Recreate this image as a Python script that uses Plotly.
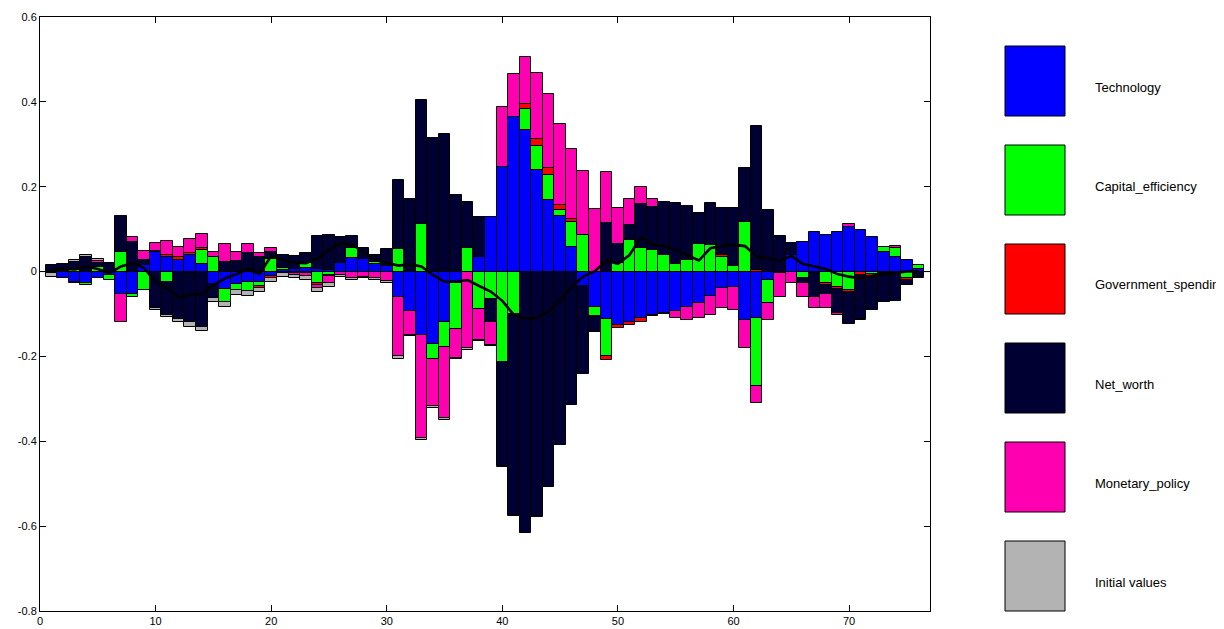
import plotly.graph_objects as go

periods = list(range(1, 77))

technology = [-0.004, -0.016, -0.024, -0.028, -0.016, -0.008, -0.054, -0.053, 0.016, 0.045,
              0.035, 0.027, 0.039, 0.019, -0.029, -0.042, -0.029, -0.025, -0.025, -0.010,
              0.004, 0.006, 0.008, 0.006, 0.004, 0.020, 0.031, 0.030, 0.018, 0.012,
              -0.059, -0.094, -0.149, -0.171, -0.120, -0.028, 0.000, 0.035, 0.129, 0.246,
              0.364, 0.334, 0.239, 0.169, 0.131, 0.057, -0.034, -0.083, -0.112, -0.126,
              -0.120, -0.110, -0.102, -0.097, -0.092, -0.084, -0.075, -0.057, -0.039, -0.036,
              -0.114, -0.110, -0.020, 0.000, 0.039, 0.070, 0.094, 0.086, 0.093, 0.104,
              0.098, 0.082, 0.045, 0.034, 0.027, 0.006]

capital_efficiency = [0.002, 0.000, 0.003, -0.004, 0.010, -0.012, 0.045, -0.008, -0.043, 0.000,
                      -0.024, 0.000, -0.004, 0.033, 0.034, -0.030, -0.014, -0.021, -0.009, 0.029,
                      0.004, 0.000, 0.012, -0.028, -0.008, 0.000, 0.024, 0.000, 0.004, 0.000,
                      0.053, 0.000, 0.111, -0.036, -0.057, -0.108, 0.055, -0.089, -0.065, -0.214,
                      -0.100, 0.048, 0.058, 0.059, 0.014, 0.059, 0.086, -0.022, -0.088, 0.020,
                      0.074, 0.055, 0.051, 0.039, 0.018, 0.027, 0.065, 0.063, 0.035, 0.012,
                      0.118, -0.159, -0.055, -0.004, 0.000, -0.016, 0.000, -0.028, -0.037, -0.043,
                      0.000, -0.006, 0.014, 0.021, -0.016, 0.010]

government_spending = [0.000, 0.000, -0.003, 0.000, 0.000, 0.000, 0.000, 0.000, 0.000, 0.004,
                       0.005, 0.008, 0.004, 0.004, 0.000, 0.000, 0.000, 0.000, -0.004, -0.004,
                       -0.004, -0.004, -0.004, -0.004, -0.002, 0.000, 0.000, 0.000, 0.000, 0.000,
                       0.000, 0.000, 0.000, 0.000, 0.000, 0.000, 0.000, 0.000, 0.000, 0.000,
                       0.000, 0.012, 0.015, 0.015, 0.012, 0.008, 0.000, -0.003, -0.008, -0.008,
                       -0.007, -0.008, -0.003, -0.003, 0.000, 0.000, 0.000, 0.000, 0.004, 0.000,
                       0.000, 0.004, 0.000, 0.000, 0.000, 0.000, -0.004, -0.004, -0.004, -0.004,
                       -0.008, -0.005, -0.004, -0.004, -0.004, -0.004]

net_worth = [0.014, 0.018, 0.020, 0.034, 0.011, 0.020, 0.087, 0.069, 0.011, -0.087,
             -0.078, -0.112, -0.116, -0.131, -0.034, 0.022, 0.026, 0.043, 0.035, 0.018,
             0.031, 0.031, 0.023, 0.078, 0.082, 0.061, 0.030, 0.025, 0.017, 0.041,
             0.163, 0.171, 0.293, 0.314, 0.324, 0.180, 0.110, 0.094, -0.055, -0.244,
             -0.474, -0.617, -0.576, -0.507, -0.409, -0.314, -0.208, -0.034, 0.114, 0.045,
             0.036, 0.104, 0.102, 0.124, 0.143, 0.128, 0.072, 0.098, 0.110, 0.139,
             0.125, 0.339, 0.145, 0.084, 0.028, -0.012, -0.057, -0.021, -0.057, -0.076,
             -0.104, -0.079, -0.067, -0.065, -0.012, -0.008]

monetary_policy = [0.000, 0.000, 0.000, 0.000, 0.004, 0.000, -0.066, 0.012, 0.022, 0.018,
                   0.031, 0.024, 0.034, 0.032, 0.011, 0.043, 0.019, 0.021, 0.008, 0.009,
                   0.000, -0.003, -0.006, -0.006, -0.018, -0.007, -0.016, -0.012, -0.016, -0.022,
                   -0.141, -0.055, -0.244, -0.111, -0.169, -0.068, -0.181, -0.072, -0.053, 0.141,
                   0.102, 0.111, 0.155, 0.175, 0.190, 0.164, 0.152, 0.147, 0.121, 0.086,
                   0.061, 0.040, 0.017, 0.000, -0.018, -0.030, -0.035, -0.046, -0.047, -0.054,
                   -0.067, -0.041, -0.039, -0.055, -0.028, -0.031, -0.026, -0.032, -0.004, 0.007,
                   -0.003, 0.000, 0.000, 0.006, 0.000, -0.004]

initial_values = [-0.008, 0.000, 0.004, 0.005, 0.004, 0.000, 0.000, 0.000, 0.000, -0.004,
                  -0.006, -0.008, -0.010, -0.009, -0.009, -0.011, -0.012, -0.011, -0.009, -0.011,
                  -0.009, -0.009, -0.009, -0.009, -0.008, -0.006, -0.005, -0.004, -0.004, -0.006,
                  -0.005, -0.004, -0.004, -0.004, -0.004, -0.003, -0.004, -0.003, -0.002, -0.002,
                  -0.002, 0.000, -0.002, 0.000, 0.000, 0.000, 0.000, 0.000, 0.000, 0.000,
                  0.000, 0.000, 0.000, 0.000, 0.000, 0.000, 0.000, 0.000, 0.000, 0.000,
                  0.000, 0.000, 0.000, 0.000, 0.000, 0.000, 0.000, 0.000, 0.000, 0.000,
                  0.000, 0.000, 0.000, 0.000, 0.000, 0.000]

total = [0.005, 0.007, 0.005, 0.012, 0.006, -0.004, 0.012, 0.020, 0.008, -0.024,
         -0.038, -0.061, -0.055, -0.053, -0.032, -0.016, -0.006, 0.006, -0.006, 0.037,
         0.027, 0.021, 0.020, 0.031, 0.051, 0.067, 0.064, 0.045, 0.027, 0.021,
         0.014, 0.017, 0.012, -0.008, -0.024, -0.024, -0.020, -0.034, -0.047, -0.069,
         -0.102, -0.111, -0.109, -0.094, -0.067, -0.036, -0.012, 0.001, 0.026, 0.018,
         0.039, 0.081, 0.064, 0.060, 0.051, 0.039, 0.026, 0.055, 0.061, 0.063,
         0.060, 0.035, 0.031, 0.025, 0.037, 0.018, 0.012, 0.006, -0.006, -0.012,
         -0.016, -0.010, -0.006, -0.003, 0.000, 0.001]

series_names = ["Technology", "Capital_efficiency", "Government_spending",
                "Net_worth", "Monetary_policy", "Initial values"]
series_values = [technology, capital_efficiency, government_spending,
                 net_worth, monetary_policy, initial_values]
series_colors = ["#0000FF", "#00FF00", "#FF0000", "#000033", "#FF00B0", "#B3B3B3"]

x_ticks = [0, 10, 20, 30, 40, 50, 60, 70]
y_ticks = [-0.8, -0.6, -0.4, -0.2, 0, 0.2, 0.4, 0.6]
y_tick_labels = ["-0.8", "-0.6", "-0.4", "-0.2", "0", "0.2", "0.4", "0.6"]

fig = go.Figure()
for name, vals, col in zip(series_names, series_values, series_colors):
    fig.add_trace(go.Bar(
        x=periods, y=[v if v != 0 else None for v in vals], name=name, width=1.0,
        marker=dict(color=col, line=dict(color="black", width=1)),
        showlegend=False, hoverinfo="skip"))

fig.add_trace(go.Scatter(x=periods, y=total, mode="lines",
                         line=dict(color="black", width=2.6),
                         showlegend=False, hoverinfo="skip"))

# page geometry (pixels); the page body adds an 8px offset to the figure
OFF = 8
W, H = 1224 - OFF, 629 - OFF
L, R, T, B = 40, 930, 17, 611   # plot box in page pixels


def px_x(p):
    return (p - L) / (R - L)


def px_y(p):
    return (B - p) / (B - T)


shapes = [dict(type="line", xref="x", yref="y", x0=0, x1=77, y0=0, y1=0,
               line=dict(color="black", width=1), layer="below")]
annotations = []
sq_left, sq_right, sq_h, first_top, step = 1005, 1065, 70, 46, 99
for i, (name, col) in enumerate(zip(series_names, series_colors)):
    top = first_top + i * step
    shapes.append(dict(type="rect", xref="paper", yref="paper",
                       x0=px_x(sq_left), x1=px_x(sq_right),
                       y0=px_y(top + sq_h), y1=px_y(top),
                       fillcolor=col, line=dict(color="black", width=1)))
    annotations.append(dict(xref="paper", yref="paper", x=px_x(1093),
                            y=px_y(top + sq_h / 2 + 6),
                            text=name, showarrow=False, xanchor="left", yanchor="middle",
                            font=dict(size=13, color="black",
                                      family="Liberation Sans, Arial, sans-serif")))

axis_common = dict(showgrid=False, zeroline=False, showline=True, linecolor="black",
                   linewidth=1, mirror="ticks", ticks="inside", ticklen=6,
                   tickcolor="black", automargin=False,
                   tickfont=dict(size=11, color="black",
                                 family="Liberation Sans, Arial, sans-serif"))

fig.update_layout(
    width=W, height=H, autosize=False, barmode="relative", bargap=0,
    plot_bgcolor="white", paper_bgcolor="white",
    margin=dict(l=L - OFF, r=W - (R - OFF), t=T - OFF, b=H - (B - OFF), pad=0),
    xaxis=dict(range=[0, 77], tickvals=x_ticks, **axis_common),
    yaxis=dict(range=[-0.8, 0.6], tickvals=y_ticks, ticktext=y_tick_labels, **axis_common),
    shapes=shapes, annotations=annotations,
)

fig.write_html("out.html")
